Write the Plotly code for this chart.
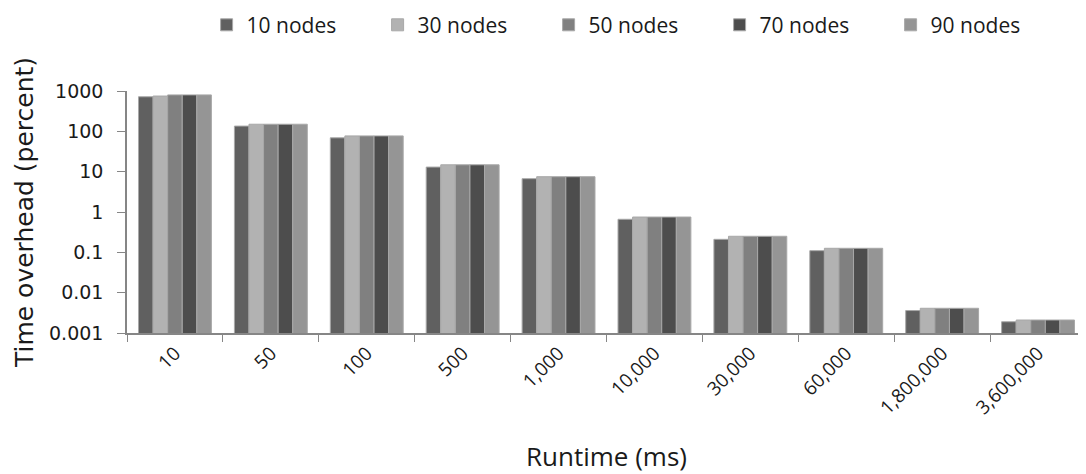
import plotly.graph_objects as go

categories = ["10", "50", "100", "500", "1,000", "10,000", "30,000", "60,000", "1,800,000", "3,600,000"]
series_names = ["10 nodes", "30 nodes", "50 nodes", "70 nodes", "90 nodes"]
nodes10 = [720, 135, 69, 13, 6.7, 0.66, 0.21, 0.11, 0.0036, 0.0019]
nodes30 = [750, 150, 77, 14.8, 7.5, 0.75, 0.25, 0.126, 0.0041, 0.0021]
nodes50 = [800, 150, 77, 14.8, 7.5, 0.75, 0.25, 0.126, 0.0041, 0.0021]
nodes70 = [800, 150, 77, 14.8, 7.5, 0.75, 0.25, 0.126, 0.0041, 0.0021]
nodes90 = [800, 150, 77, 14.8, 7.5, 0.75, 0.25, 0.126, 0.0041, 0.0021]
series_values = [nodes10, nodes30, nodes50, nodes70, nodes90]
colors = ["#606060", "#b2b2b2", "#808080", "#4d4d4d", "#959595"]

y_tickvals = [0.001, 0.01, 0.1, 1, 10, 100, 1000]
y_ticktext = ["0.001", "0.01", "0.1", "1", "10", "100", "1000"]

sego = "Open Sans"
verd = "DejaVu Sans"

fig = go.Figure()
for name, vals, col in zip(series_names, series_values, colors):
    fig.add_trace(go.Bar(
        name=name, x=categories, y=vals,
        marker=dict(color=col, line=dict(color="#a8a8a8", width=1)),
    ))

fig.update_layout(
    barmode="group",
    bargap=0.24,
    bargroupgap=0,
    width=1078, height=466,
    margin=dict(l=119, r=0, t=83, b=141, autoexpand=False),
    paper_bgcolor="white",
    plot_bgcolor="white",
    showlegend=True,
    legend=dict(
        orientation="h", x=0.083, xanchor="left", y=1.272, yanchor="middle",
        font=dict(family=sego, size=21, color="#1a1a1a"),
        itemwidth=30, entrywidth=126, entrywidthmode="pixels",
        traceorder="normal",
    ),
    xaxis=dict(
        type="category",
        showline=True, linecolor="#868686", linewidth=1.5,
        ticks="outside", tickson="boundaries", ticklen=7, tickcolor="#868686",
        tickangle=-45,
        tickfont=dict(family=sego, size=19, color="#1a1a1a"),
        title=dict(text="Runtime (ms)", font=dict(family=sego, size=26, color="#1a1a1a"), standoff=30),
        showgrid=False, automargin=False,
    ),
    yaxis=dict(
        type="log", range=[-3, 3],
        tickvals=y_tickvals, ticktext=y_ticktext,
        showline=True, linecolor="#868686", linewidth=1.5,
        ticks="outside", ticklen=8, tickcolor="#868686",
        ticklabelstandoff=10,
        tickfont=dict(family=verd, size=19, color="#1a1a1a"),
        title=dict(text="Time overhead (percent)", font=dict(family=verd, size=25, color="#1a1a1a"), standoff=8),
        showgrid=False, zeroline=False, automargin=False,
    ),
)

fig.write_html("out.html")
